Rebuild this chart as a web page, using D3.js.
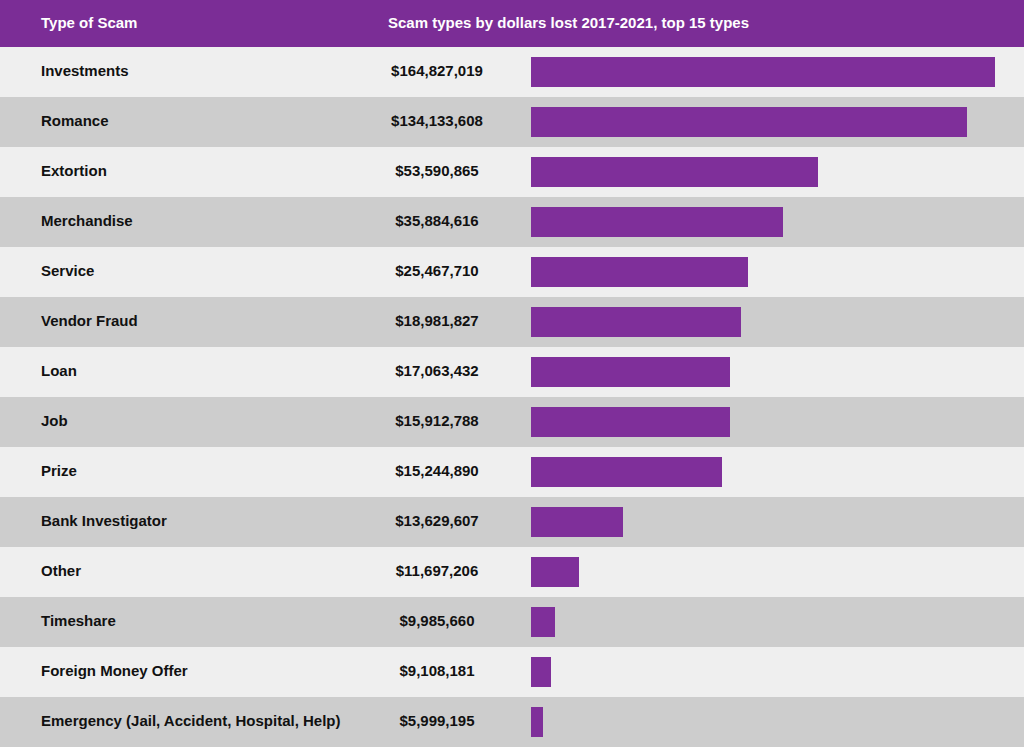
<!DOCTYPE html>
<html><head><meta charset="utf-8">
<script src="https://cdn.jsdelivr.net/npm/d3@7"></script>
<style>body{margin:0;background:#fff}text{font-family:"Liberation Sans",Arial,sans-serif;font-weight:bold}</style>
</head><body><svg id="chart" width="1024" height="752"></svg>
<script>
// scam types and dollars lost
const types = ['Investments','Romance','Extortion','Merchandise','Service','Vendor Fraud','Loan','Job','Prize','Bank Investigator','Other','Timeshare','Foreign Money Offer','Emergency (Jail, Accident, Hospital, Help)'];
const dollars = [164827019,134133608,53590865,35884616,25467710,18981827,17063432,15912788,15244890,13629607,11697206,9985660,9108181,5999195];
// bar lengths as drawn in the original (not proportional to dollars), relative units
const barIndex = [464,436,287,252,217,210,199,199,191,92,48,24,20,12];

const svg = d3.select('#chart');
const W = 1024, headH = 47, rowH = 50;

svg.append('rect').attr('width', W).attr('height', headH).attr('fill', '#7b2d96');
svg.append('text').attr('x', 41).attr('y', 28).attr('fill', '#fff').attr('font-size', 15).text('Type of Scam');
svg.append('text').attr('x', 388).attr('y', 28).attr('fill', '#fff').attr('font-size', 15).text('Scam types by dollars lost 2017-2021, top 15 types');

const y = d3.scaleBand().domain(types).range([headH, headH + rowH * types.length]);
const x = d3.scaleLinear().domain([0, 464]).range([0, 464]);
const fmt = d3.format('$,');

const rows = svg.selectAll('g.row').data(types).join('g').attr('class', 'row')
  .attr('transform', d => `translate(0,${y(d)})`);
rows.append('rect').attr('width', W).attr('height', y.bandwidth())
  .attr('fill', (d, i) => i % 2 ? '#cdcdcd' : '#efefef');
rows.append('text').attr('x', 41).attr('y', 29).attr('font-size', 15).attr('fill', '#111').text(d => d);
rows.append('text').attr('x', 437).attr('y', 29).attr('text-anchor', 'middle').attr('font-size', 15).attr('fill', '#111')
  .text((d, i) => fmt(dollars[i]));
rows.append('rect').attr('x', 531).attr('y', 10).attr('height', 30)
  .attr('width', (d, i) => x(barIndex[i])).attr('fill', '#7f2f9a');
</script></body></html>
